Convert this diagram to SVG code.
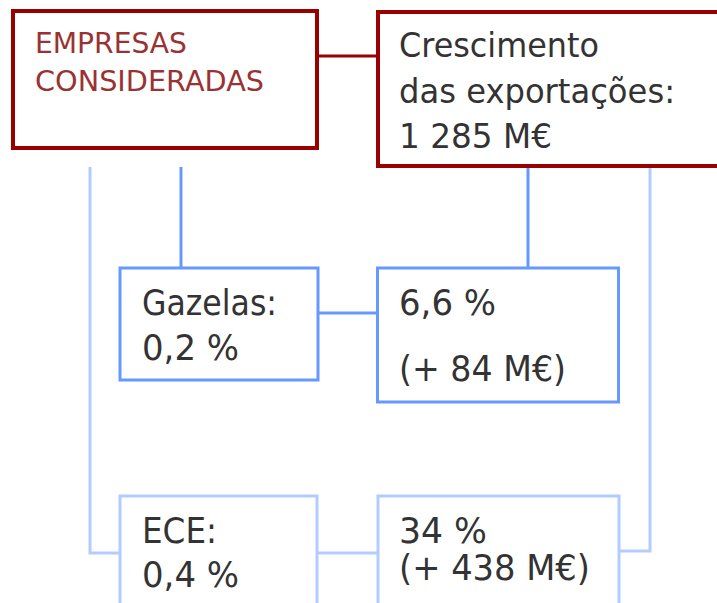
<svg xmlns="http://www.w3.org/2000/svg" width="717" height="603" viewBox="0 0 717 603">
<style>
.t{font-family:"DejaVu Sans","Verdana",sans-serif;font-size:35px;fill:#333333}
.u{font-family:"DejaVu Sans","Verdana",sans-serif;font-size:33px;fill:#333333}
.r{font-family:"DejaVu Sans","Verdana",sans-serif;font-size:29px;fill:#993333}
.rb{fill:#ffffff;stroke:#990000;stroke-width:4}
.db{fill:#ffffff;stroke:#6699ff;stroke-width:3}
.lb{fill:#ffffff;stroke:#b3ccff;stroke-width:3}
.cr{fill:none;stroke:#990000;stroke-width:3}
.cd{fill:none;stroke:#6699ff;stroke-width:3}
.cl{fill:none;stroke:#b3ccff;stroke-width:3}
</style>
<rect width="717" height="603" fill="#ffffff"/>
<g id="connectors">
<line class="cr" x1="318" y1="56" x2="378" y2="56"/>
<line class="cd" x1="181" y1="167" x2="181" y2="268"/>
<line class="cd" x1="528" y1="167" x2="528" y2="268"/>
<line class="cd" x1="318" y1="313" x2="377" y2="313"/>
<polyline class="cl" points="90,167 90,553 120,553"/>
<polyline class="cl" points="650,167 650,551 619,551"/>
<line class="cl" x1="317" y1="553" x2="378" y2="553"/>
</g>
<g id="empresas">
<rect class="rb" x="13" y="11" width="304" height="137"/>
<text class="r" x="35" y="53" textLength="152" lengthAdjust="spacingAndGlyphs">EMPRESAS</text>
<text class="r" x="35" y="91" textLength="229" lengthAdjust="spacingAndGlyphs">CONSIDERADAS</text>
</g>
<g id="crescimento">
<rect class="rb" x="378" y="12" width="400" height="154"/>
<text class="u" x="399" y="57" textLength="200" lengthAdjust="spacingAndGlyphs">Crescimento</text>
<text class="u" x="399" y="103" textLength="276" lengthAdjust="spacingAndGlyphs">das exportações:</text>
<text class="u" x="399" y="148" textLength="153" lengthAdjust="spacingAndGlyphs">1 285 M€</text>
</g>
<g id="gazelas">
<rect class="db" x="120" y="268" width="198" height="112"/>
<text class="t" x="142" y="315" textLength="135" lengthAdjust="spacingAndGlyphs">Gazelas:</text>
<text class="t" x="142" y="360" textLength="97" lengthAdjust="spacingAndGlyphs">0,2 %</text>
</g>
<g id="gazelas-valor">
<rect class="db" x="377.5" y="268" width="241" height="134"/>
<text class="t" x="399" y="315" textLength="97" lengthAdjust="spacingAndGlyphs">6,6 %</text>
<text class="t" x="399" y="381" textLength="167" lengthAdjust="spacingAndGlyphs">(+ 84 M€)</text>
</g>
<g id="ece">
<rect class="lb" x="120" y="496" width="197" height="130"/>
<text class="t" x="142" y="543" textLength="75" lengthAdjust="spacingAndGlyphs">ECE:</text>
<text class="t" x="142" y="587" textLength="97" lengthAdjust="spacingAndGlyphs">0,4 %</text>
</g>
<g id="ece-valor">
<rect class="lb" x="378" y="496" width="241" height="130"/>
<text class="t" x="399" y="543" textLength="88" lengthAdjust="spacingAndGlyphs">34 %</text>
<text class="t" x="399" y="580" textLength="191" lengthAdjust="spacingAndGlyphs">(+ 438 M€)</text>
</g>
</svg>
